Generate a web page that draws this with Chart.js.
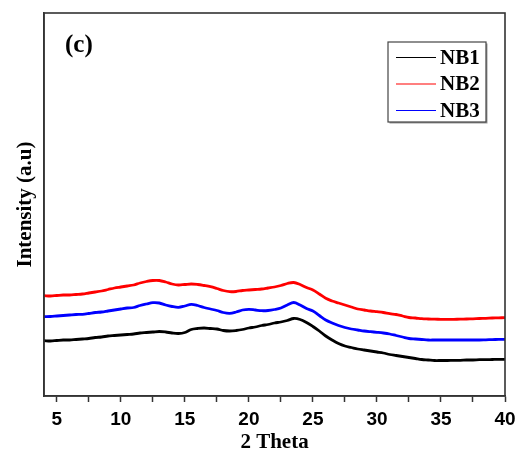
<!DOCTYPE html>
<html>
<head>
<meta charset="utf-8">
<script src="https://cdn.jsdelivr.net/npm/chart.js@4/dist/chart.umd.min.js"></script>
<style>
  html, body { margin: 0; padding: 0; background: #fff; }
  #wrap { width: 520px; height: 456px; }
</style>
</head>
<body>
<div id="wrap"><canvas id="xrd"></canvas></div>
<script>
// 2 theta positions (degrees)
const twoTheta = [4, 4.5, 5, 5.5, 6, 6.5, 7, 7.5, 8, 8.5, 9, 9.5, 10, 10.5, 11, 11.5, 12, 12.5, 13, 13.5,
  14, 14.5, 15, 15.5, 16, 16.5, 17, 17.5, 18, 18.5, 19, 19.5, 20, 20.5, 21, 21.5, 22, 22.5, 23, 23.5,
  24, 24.5, 25, 25.5, 26, 26.5, 27, 27.5, 28, 28.5, 29, 29.5, 30, 30.5, 31, 31.5, 32, 32.5, 33, 33.5,
  34, 34.5, 35, 35.5, 36, 36.5, 37, 37.5, 38, 38.5, 39, 39.5, 40];

// intensities (a.u.)
const nb1 = [55.3, 55, 55.5, 56, 56, 56.5, 57, 57.5, 58.5, 59, 60, 60.5, 61, 61.5, 62, 63, 63.5, 64, 64.5, 64,
  63, 62.5, 63.5, 66.5, 67.5, 68, 67.5, 67, 65.5, 65, 65.5, 66.5, 68, 69, 70.5, 71.5, 73, 74, 75.5, 77.5,
  76.5, 73.5, 69.5, 65, 60, 56, 52.5, 50, 48.5, 47, 46, 45, 44, 43, 41.5, 40.5, 39.5, 38.5, 37.5, 36.5,
  36, 35.5, 35.5, 35.5, 35.7, 35.7, 36, 36, 36.3, 36.3, 36.5, 36.7, 36.7];

const nb2 = [100.3, 100, 100.5, 101, 101, 101.5, 102, 103, 104, 105, 106.5, 108, 109, 110, 111, 113, 114.5, 115.5, 115.5, 114,
  112, 111, 111.5, 112, 111.5, 110.5, 109.3, 107.5, 105.5, 104.3, 104.5, 105.5, 106, 106.5, 107, 108, 109, 110.5, 112.5, 113.5,
  111.5, 108.5, 106, 102, 97.7, 95, 93, 91, 89, 87, 86, 85, 84.3, 83.5, 82.3, 81.5, 80, 78.5, 78, 77.3,
  77, 76.8, 76.7, 76.7, 76.7, 76.8, 77, 77.2, 77.5, 77.7, 78, 78.2, 78.3];

const nb3 = [79.3, 79.5, 80, 80.5, 81, 81.5, 81.7, 82.5, 83.5, 84, 85, 86, 87, 88, 88.5, 90.5, 92, 93.3, 93, 91,
  89.5, 88.7, 90, 91.7, 90.5, 88.5, 87, 85.5, 83.5, 82.7, 84, 86, 86.7, 86, 85.3, 85.5, 86.5, 88, 91, 93.5,
  91, 87.5, 85, 80.5, 76, 73, 70.5, 68.5, 67, 66, 65, 64.3, 63.7, 63, 62, 60.5, 59, 57.5, 57, 56.5,
  56, 56, 56, 56, 56, 56, 56, 56, 56, 56.2, 56.4, 56.6, 56.7];

const seriesNames = ['NB1', 'NB2', 'NB3'];
const seriesColors = ['#000000', '#ff0000', '#0000ff'];
const xTicks = [5, 7.5, 10, 12.5, 15, 17.5, 20, 22.5, 25, 27.5, 30, 32.5, 35, 37.5, 40];
const panelLabel = '(c)';

const serif = '"Liberation Serif", "Times New Roman", serif';
const sans = '"Liberation Sans", Arial, sans-serif';

function toPoints(ys) {
  return twoTheta.map((x, i) => ({ x: x, y: ys[i] }));
}

// frame, panel letter and boxed legend
const decor = {
  id: 'decor',
  afterDraw(chart) {
    const { ctx, chartArea } = chart;
    ctx.save();
    ctx.strokeStyle = '#333';
    ctx.lineWidth = 1.6;
    ctx.strokeRect(chartArea.left, chartArea.top, chartArea.right - chartArea.left, chartArea.bottom - chartArea.top);

    ctx.fillStyle = '#000';
    ctx.font = 'bold 25px ' + serif;
    ctx.textBaseline = 'middle';
    ctx.textAlign = 'left';
    ctx.fillText(panelLabel, chartArea.left + 21, chartArea.top + 33);

    // legend box
    const bx = chartArea.right - 117, by = chartArea.top + 29, bw = 98, bh = 80;
    ctx.fillStyle = '#999';
    ctx.fillRect(bx + 1.5, by + 1.5, bw, bh);
    ctx.fillStyle = '#fff';
    ctx.fillRect(bx, by, bw, bh);
    ctx.strokeStyle = '#444';
    ctx.lineWidth = 1.2;
    ctx.strokeRect(bx, by, bw, bh);
    ctx.font = 'bold 21px ' + serif;
    chart.data.datasets.forEach((ds, i) => {
      const y = by + 15.5 + i * 26.5;
      ctx.strokeStyle = ds.borderColor;
      ctx.lineWidth = 1.1;
      ctx.beginPath();
      ctx.moveTo(bx + 8, y);
      ctx.lineTo(bx + 48, y);
      ctx.stroke();
      ctx.fillStyle = '#000';
      ctx.fillText(ds.label, bx + 52, y + 1);
    });
    ctx.restore();
  }
};

new Chart(document.getElementById('xrd'), {
  type: 'line',
  data: {
    datasets: [nb1, nb2, nb3].map((ys, i) => ({
      label: seriesNames[i],
      data: toPoints(ys),
      borderColor: seriesColors[i],
      borderWidth: 2.8,
      pointRadius: 0,
      tension: 0.35,
      fill: false
    }))
  },
  options: {
    responsive: true,
    maintainAspectRatio: false,
    animation: false,
    layout: { padding: { top: 13, right: 15, left: 0, bottom: 0 } },
    plugins: {
      legend: { display: false },
      tooltip: { enabled: false }
    },
    scales: {
      x: {
        type: 'linear',
        min: 4,
        max: 40,
        afterFit(scale) {
          scale.height = 60;
          scale.paddingLeft = 0;
          scale.paddingRight = 0;
        },
        afterBuildTicks(scale) { scale.ticks = xTicks.map(v => ({ value: v })); },
        grid: {
          drawOnChartArea: false,
          drawTicks: true,
          tickLength: 6,
          tickColor: '#333',
          tickWidth: 1.5
        },
        border: { display: true, color: '#333', width: 1.6 },
        ticks: {
          autoSkip: false,
          maxRotation: 0,
          padding: 6,
          color: '#000',
          font: { family: sans, size: 19, weight: 'bold' },
          callback: v => (v % 5 === 0 ? String(v) : '')
        },
        title: {
          display: true,
          text: '2 Theta',
          color: '#000',
          font: { family: serif, size: 21, weight: 'bold' },
          padding: { top: 0, bottom: 1 }
        }
      },
      y: {
        min: 0,
        max: 383,
        afterFit(scale) { scale.width = 44; },
        grid: { drawOnChartArea: false, drawTicks: false },
        border: { display: true, color: '#333', width: 1.6 },
        ticks: { display: false },
        title: {
          display: true,
          text: 'Intensity (a.u)',
          color: '#000',
          font: { family: serif, size: 21, weight: 'bold' },
          padding: { top: 13, bottom: 0 }
        }
      }
    }
  },
  plugins: [decor]
});
</script>
</body>
</html>
